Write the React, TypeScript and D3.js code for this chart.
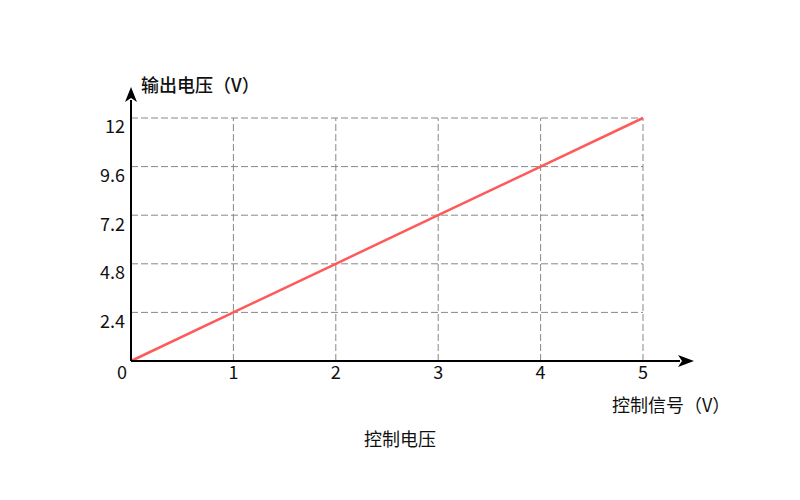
import React from "react";
import * as d3 from "d3";

const controlSignal = [0, 1, 2, 3, 4, 5];
const outputVoltage = [0, 2.4, 4.8, 7.2, 9.6, 12];
const xTicks = [0, 1, 2, 3, 4, 5];
const yTicks = [2.4, 4.8, 7.2, 9.6, 12];
const yTickLabels = ["2.4", "4.8", "7.2", "9.6", "12"];
const xTitle = "控制信号（V）";
const yTitle = "输出电压（V）";
const chartTitle = "控制电压";

const W = 800;
const H = 500;
const x0 = 131, x1 = 643, y0 = 361, y1 = 118;
const font = "'Noto Sans CJK SC', 'Noto Sans', sans-serif";

export default function App() {
  const x = d3.scaleLinear().domain([0, 5]).range([x0, x1]);
  const y = d3.scaleLinear().domain([0, 12]).range([y0, y1]);
  const pts = controlSignal.map((v, i) => [v, outputVoltage[i]] as [number, number]);
  const line = d3.line<[number, number]>().x(d => x(d[0])).y(d => y(d[1]));
  return (
    <svg width={W} height={H} style={{ position: "absolute", left: 0, top: 0 }} fontFamily={font}>
      <rect width={W} height={H} fill="#fff" />
      {yTicks.map(t => (
        <line key={"gy" + t} x1={x0} x2={x1} y1={y(t)} y2={y(t)} stroke="#888" strokeDasharray="7,3" strokeWidth={1} />
      ))}
      {xTicks.filter(t => t > 0).map(t => (
        <line key={"gx" + t} x1={x(t)} x2={x(t)} y1={y0} y2={y1} stroke="#888" strokeDasharray="7,3" strokeWidth={1} />
      ))}
      <path d={line(pts) || ""} fill="none" stroke="#ff5a5a" strokeWidth={2.5} />
      <line x1={x0} x2={x0} y1={y0} y2={100} stroke="#000" strokeWidth={2} />
      <path d={`M${x0 - 6},${102} L${x0},${87} L${x0 + 6},${102} L${x0},${98} Z`} fill="#000" />
      <line x1={x0} x2={680} y1={y0} y2={y0} stroke="#000" strokeWidth={2} />
      <path d={`M${678},${y0 - 6} L${694},${y0} L${678},${y0 + 6} L${682},${y0} Z`} fill="#000" />
      {yTicks.map((t, i) => (
        <text key={"ty" + t} x={125} y={y(t) + 9} dy="0.35em" textAnchor="end" fontSize={18} fill="#111">{yTickLabels[i]}</text>
      ))}
      {xTicks.map(t => (
        <text key={"tx" + t} x={t === 0 ? 122 : x(t)} y={373} dy="0.35em" textAnchor="middle" fontSize={18} fill="#111">{t}</text>
      ))}
      <text x={141} y={86} dy="0.35em" fontSize={18} fontWeight={500} fill="#111">{yTitle}</text>
      <text x={612} y={406} dy="0.35em" fontSize={18} fill="#111">{xTitle}</text>
      <text x={400} y={440} dy="0.35em" textAnchor="middle" fontSize={18} fill="#111">{chartTitle}</text>
    </svg>
  );
}
